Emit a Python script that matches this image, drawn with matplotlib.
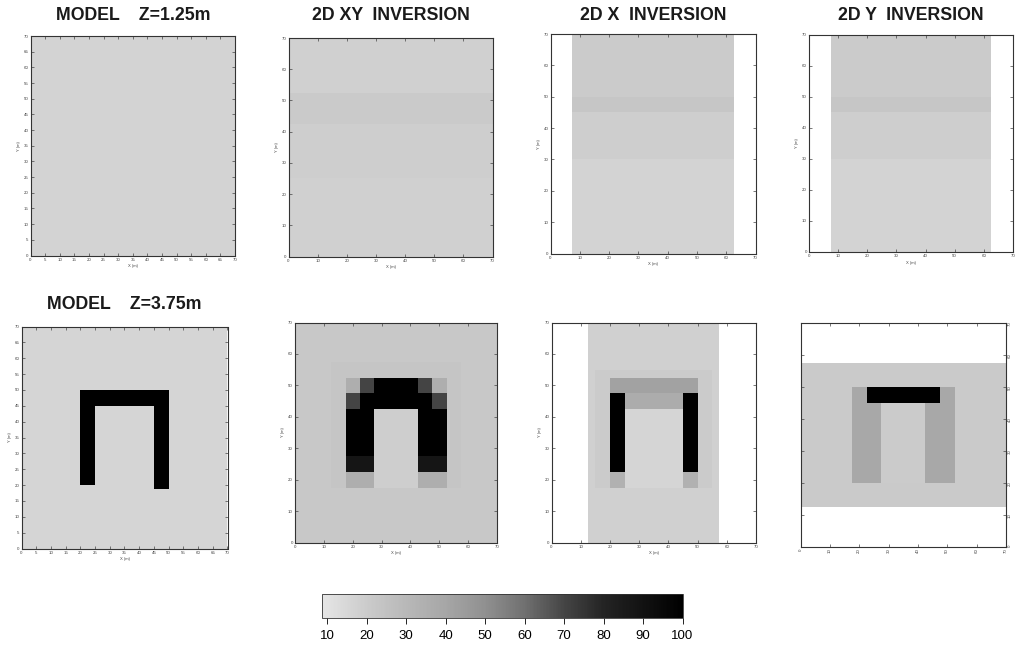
#!/usr/bin/env python3
"""Model slices vs 2D / 2D-X / 2D-Y inversion results, grey-scale sections."""

import numpy as np
import matplotlib
matplotlib.use("Agg")
import matplotlib.pyplot as plt
from matplotlib.colors import LinearSegmentedColormap, Normalize

plt.rcParams.update({
    "font.family": ["Liberation Sans", "DejaVu Sans"],
    "axes.linewidth": 0.8,
    "axes.edgecolor": "#333333",
})

W, H = 1017, 645

# colour bar (values 10..100)
CB_TICKS = [10, 20, 30, 40, 50, 60, 70, 80, 90, 100]
CB_LEVELS = [8.5, 20, 30, 40, 50, 60, 70, 80, 90, 100]
CB_GREYS = ["#e6e6e6", "#cbcbcb", "#b8b8b8", "#a6a6a6", "#909090",
            "#707070", "#454545", "#242424", "#121212", "#000000"]

# panel titles (empty = no title)
TITLES = ["MODEL    Z=1.25m", "2D XY  INVERSION", "2D X  INVERSION",
          "2D Y  INVERSION", "MODEL    Z=3.75m", "", "", ""]

# area covered by each section (x0, x1, y0, y1) in m, outside is blank
COVER = [(0, 70, 0, 70), (0, 70, 0, 70), (7.5, 62.5, 0, 70), (7.5, 62.5, 0, 70),
         (0, 70, 0, 70), (0, 70, 0, 70), (12.5, 57.5, 0, 70), (0, 70, 12.5, 57.5)]
BACKGROUND = [17, 18, 17, 17, 16, 22, 18, 21]

# blocks (x0, x1, y0, y1, value), applied in order
BLOCKS = [
    [],
    [(0, 70, 42.5, 52.5, 21), (0, 70, 25, 42.5, 19)],
    [(7.5, 62.5, 50, 70, 20), (7.5, 62.5, 45, 50, 23), (7.5, 62.5, 30, 45, 19)],
    [(7.5, 62.5, 50, 70, 20), (7.5, 62.5, 45, 50, 23), (7.5, 62.5, 30, 45, 19)],
    [(20, 50, 45, 50, 100), (20, 25, 20, 45, 100), (45, 50, 18.75, 45, 100)],
    [(12.5, 57.5, 17.5, 57.5, 23.5),
     (17.5, 22.5, 47.5, 52.5, 36), (47.5, 52.5, 47.5, 52.5, 36),
     (22.5, 27.5, 47.5, 52.5, 70), (42.5, 47.5, 47.5, 52.5, 70),
     (27.5, 42.5, 47.5, 52.5, 100),
     (17.5, 22.5, 42.5, 47.5, 70), (47.5, 52.5, 42.5, 47.5, 70),
     (22.5, 47.5, 42.5, 47.5, 100),
     (27.5, 42.5, 17.5, 42.5, 19),
     (17.5, 27.5, 27.5, 42.5, 100), (42.5, 52.5, 27.5, 42.5, 100),
     (17.5, 27.5, 22.5, 27.5, 88), (42.5, 52.5, 22.5, 27.5, 88),
     (17.5, 27.5, 17.5, 22.5, 36), (42.5, 52.5, 17.5, 22.5, 36)],
    [(15, 55, 17.5, 55, 20),
     (20, 50, 47.5, 52.5, 42), (25, 45, 42.5, 47.5, 37),
     (25, 45, 17.5, 42.5, 16),
     (20, 25, 22.5, 47.5, 100), (45, 50, 22.5, 47.5, 100),
     (20, 25, 17.5, 22.5, 34), (45, 50, 17.5, 22.5, 34)],
    [(17.5, 52.5, 20, 50, 39), (27.5, 42.5, 20, 45, 20),
     (22.5, 47.5, 45, 50, 100)],
]

# tick spacing for each panel
TICK_STEP = [5, 10, 10, 10, 5, 10, 10, 10]

# axes boxes in pixels: left, right, top, bottom
BOXES = [(30.5, 235, 36, 255.5), (288.5, 492.5, 38, 256.5),
         (550.5, 755.5, 34, 253.5), (809, 1013, 35, 252),
         (21.5, 227.5, 326.5, 548.5), (295, 497, 322.5, 542.5),
         (551.5, 756, 322.5, 542.5), (800.5, 1006, 322.5, 546.5)]
CB_BOX = (321.5, 682.5, 593.5, 617.5)
TITLE_Y = [16, 16, 16, 16, 305]


def px_rect(box):
    l, r, t, b = box
    return [l / W, 1 - b / H, (r - l) / W, (b - t) / H]


def build_grid(cover, bg, blocks, edges):
    c = 0.5 * (edges[:-1] + edges[1:])
    X, Y = np.meshgrid(c, c)
    z = np.full(X.shape, np.nan)
    x0, x1, y0, y1 = cover
    z[(X >= x0) & (X <= x1) & (Y >= y0) & (Y <= y1)] = bg
    for bx0, bx1, by0, by1, v in blocks:
        m = (X >= bx0) & (X <= bx1) & (Y >= by0) & (Y <= by1)
        m &= ~np.isnan(z)
        z[m] = v
    return z


cmap = LinearSegmentedColormap.from_list(
    "scan_grey",
    [((v - CB_LEVELS[0]) / (CB_LEVELS[-1] - CB_LEVELS[0]), g) for v, g in zip(CB_LEVELS, CB_GREYS)])
cmap.set_bad("white")
norm = Normalize(vmin=CB_LEVELS[0], vmax=CB_LEVELS[-1])

fig = plt.figure(figsize=(W / 100, H / 100), dpi=100)
fig.patch.set_facecolor("white")

edges = np.arange(0, 70.01, 0.25)
mesh = None
for i in range(8):
    ax = fig.add_axes(px_rect(BOXES[i]))
    z = build_grid(COVER[i], BACKGROUND[i], BLOCKS[i], edges)
    mesh = ax.pcolormesh(edges, edges, z, cmap=cmap, norm=norm, shading="flat")
    ax.set_xlim(0, 70)
    ax.set_ylim(0, 70)
    ticks = np.arange(0, 71, TICK_STEP[i])
    ax.set_xticks(ticks)
    ax.set_yticks(ticks)
    ax.tick_params(direction="in", length=2, width=0.5, labelsize=3.2, pad=1.5,
                   top=True, right=True, colors="#444444")
    ax.set_xlabel("X (m)", fontsize=3, labelpad=2, color="#444444")
    ax.set_ylabel("Y (m)", fontsize=3, labelpad=2, color="#444444")
    if i == 7:
        # this section is drawn turned: labels on the right, rotated
        ax.yaxis.tick_right()
        ax.tick_params(left=True, labelleft=False, labelright=True)
        ax.set_ylabel("")
        for lab in ax.get_xticklabels() + ax.get_yticklabels():
            lab.set_rotation(90)
        ax.set_xlabel("")
    if TITLES[i]:
        l, r, t, b = BOXES[i]
        fig.text((l + r) / 2 / W, 1 - TITLE_Y[min(i, 4)] / H, TITLES[i],
                 ha="center", va="center", fontsize=12.8, fontweight="bold",
                 color="#1a1a1a")

cax = fig.add_axes(px_rect(CB_BOX))
cb = fig.colorbar(mesh, cax=cax, orientation="horizontal", ticks=CB_TICKS)
cb.outline.set_linewidth(0.6)
cax.tick_params(labelsize=9.5, length=4, width=0.6, pad=5)

fig.savefig("out.png", dpi=100, facecolor="white")
plt.close(fig)
